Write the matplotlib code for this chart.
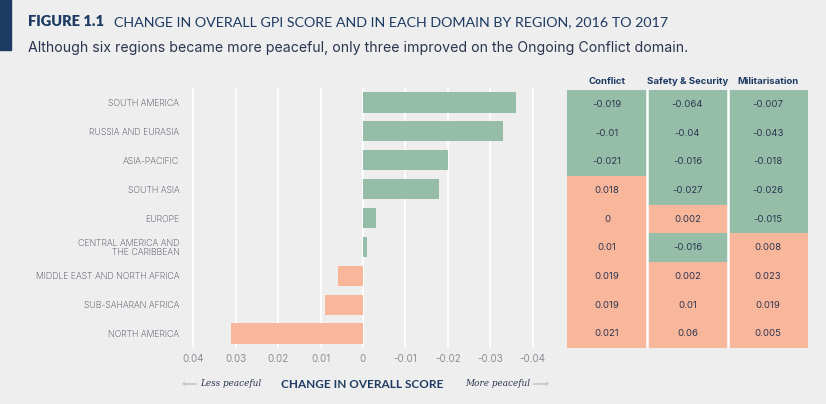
import matplotlib.pyplot as plt
import numpy as np
from matplotlib.colors import ListedColormap
from matplotlib.patches import Rectangle

regions = [
    "SOUTH AMERICA",
    "RUSSIA AND EURASIA",
    "ASIA-PACIFIC",
    "SOUTH ASIA",
    "EUROPE",
    "CENTRAL AMERICA AND\nTHE CARIBBEAN",
    "MIDDLE EAST AND NORTH AFRICA",
    "SUB-SAHARAN AFRICA",
    "NORTH AMERICA",
]
overall_change = [-0.036, -0.033, -0.020, -0.018, -0.003, -0.001, 0.006, 0.009, 0.031]

domains = ["Conflict", "Safety & Security", "Militarisation"]
conflict = [-0.019, -0.01, -0.021, 0.018, 0, 0.01, 0.019, 0.019, 0.021]
safety = [-0.064, -0.04, -0.016, -0.027, 0.002, -0.016, 0.002, 0.01, 0.06]
militarisation = [-0.007, -0.043, -0.018, -0.026, -0.015, 0.008, 0.023, 0.019, 0.005]
x_ticks = [0.04, 0.03, 0.02, 0.01, 0, -0.01, -0.02, -0.03, -0.04]

BG = "#eeeeee"
GREEN = "#95bda8"
SALMON = "#f8b69b"
NAVY = "#1d3a63"
TEXT = "#2b3550"
ARROW = "#c4c7cc"

W, H = 826, 404
fig = plt.figure(figsize=(W / 100, H / 100), dpi=100, facecolor=BG)


def box(x0, y0, x1, y1):
    # pixel box (top-left origin) -> figure fraction rect
    return [x0 / W, 1 - y1 / H, (x1 - x0) / W, (y1 - y0) / H]


# header
fig.patches.append(Rectangle((0, 1 - 50 / H), 11 / W, 50 / H, transform=fig.transFigure,
                             color=NAVY, zorder=5))
fig.text(28 / W, 1 - 22 / H, "FIGURE 1.1", fontsize=10.5, fontweight="heavy",
         color=NAVY, family="Lato", va="center")
fig.text(114 / W, 1 - 22 / H, "CHANGE IN OVERALL GPI SCORE AND IN EACH DOMAIN BY REGION, 2016 TO 2017",
         fontsize=10.3, color=NAVY, family="Lato", va="center")
fig.text(28 / W, 1 - 48 / H,
         "Although six regions became more peaceful, only three improved on the Ongoing Conflict domain.",
         fontsize=10.2, color=TEXT, family="Inter", va="center")

# bar chart
ax = fig.add_axes(box(189, 88, 537, 348))
ax.set_facecolor(BG)
y = np.arange(len(regions))
colors = [GREEN if v < 0 else SALMON for v in overall_change]
ax.barh(y, overall_change, height=0.7, color=colors, zorder=3)
ax.set_xlim(0.041, -0.041)
ax.set_ylim(len(regions) - 0.5, -0.5)
for t in x_ticks:
    ax.axvline(t, color="white", lw=1.2, zorder=1)
ax.set_xticks(x_ticks)
ax.set_xticklabels(["0" if t == 0 else f"{t:g}" for t in x_ticks])
ax.set_yticks(y)
ax.set_yticklabels(regions, fontsize=6.3, color="#3a4050", family="Inter",
                   fontweight="light", linespacing=1.0)
ax.tick_params(axis="y", length=0, pad=7)
ax.tick_params(axis="x", length=0, pad=4, labelsize=7, labelcolor="#8a8d94")
for lbl in ax.get_xticklabels():
    lbl.set_family("Inter")
for s in ax.spines.values():
    s.set_visible(False)

fig.text(362 / W, 1 - 384 / H, "CHANGE IN OVERALL SCORE", fontsize=8.5, fontweight="bold",
         color=NAVY, family="Lato", ha="center", va="center")
fig.text(200 / W, 1 - 384 / H, "Less peaceful", fontsize=6.4, style="italic",
         color=TEXT, family="DejaVu Serif", ha="left", va="center")
fig.text(530 / W, 1 - 384 / H, "More peaceful", fontsize=6.4, style="italic",
         color=TEXT, family="DejaVu Serif", ha="right", va="center")
fig.add_artist(plt.Line2D([184 / W, 196 / W], [1 - 384 / H] * 2, color=ARROW, lw=1.2))
fig.add_artist(plt.Line2D([534 / W, 546 / W], [1 - 384 / H] * 2, color=ARROW, lw=1.2))
fig.text(182 / W, 1 - 384 / H, "\u2190", fontsize=8, color=ARROW, ha="left", va="center")
fig.text(549 / W, 1 - 384 / H, "\u2192", fontsize=8, color=ARROW, ha="right", va="center")

# domain table
tx = fig.add_axes(box(567, 90, 808, 348))
values = np.array([conflict, safety, militarisation]).T
cmap = ListedColormap([GREEN, SALMON])
tx.pcolormesh(np.arange(4), np.arange(10), (values >= 0).astype(int), cmap=cmap,
              vmin=0, vmax=1, shading="flat")
tx.set_xlim(0, 3)
tx.set_ylim(9, 0)
for c in (1, 2):
    tx.axvline(c, color="white", lw=1.8)
for i in range(values.shape[0]):
    for j in range(values.shape[1]):
        tx.text(j + 0.5, i + 0.5, f"{values[i, j]:g}", ha="center", va="center",
                fontsize=6.9, color=TEXT, family="Inter")
for j, name in enumerate(domains):
    tx.text(j + 0.5, -0.3, name, ha="center", va="center", fontsize=6.9,
            fontweight="bold", color=NAVY, family="Inter")
tx.axis("off")

fig.savefig("out.png", dpi=100, facecolor=BG)
